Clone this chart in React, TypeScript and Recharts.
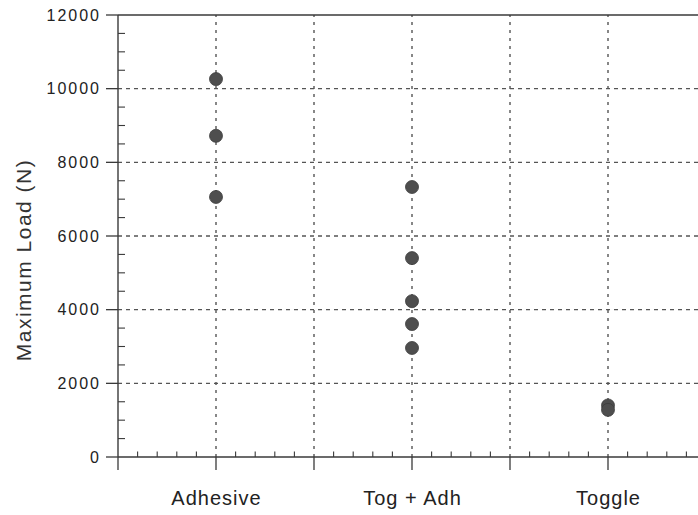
import React from 'react';
import { ScatterChart, Scatter, XAxis, YAxis, ReferenceLine } from 'recharts';

// groups and loads
const CATEGORIES = ['Adhesive', 'Tog + Adh', 'Toggle'];
const ADHESIVE = [10260, 8720, 7060];
const TOG_ADH = [7330, 5400, 4230, 3610, 2960];
const TOGGLE = [1400, 1280];

const Y_TICKS = [
  0, 500, 1000, 1500, 2000, 2500, 3000, 3500, 4000, 4500, 5000, 5500, 6000,
  6500, 7000, 7500, 8000, 8500, 9000, 9500, 10000, 10500, 11000, 11500, 12000,
];
const Y_GRID = [2000, 4000, 6000, 8000, 10000];
// x scale: each category sits in a 10-unit slot, 5 minor divisions per 5 units
const X_TICKS = Array.from({ length: 31 }, (_, i) => i);
const X_GRID = [5, 10, 15, 20, 25];

const groups = [ADHESIVE, TOG_ADH, TOGGLE];
const points = groups.flatMap((vals, gi) => vals.map((v) => ({ x: gi * 10 + 5, y: v, group: CATEGORIES[gi] })));

const INK = '#3a3a3a';
const GRID = '#555';
const FONT = '"Liberation Sans", Arial, Helvetica, sans-serif';

function YTick(props: any) {
  const { x, y, payload } = props;
  const v = payload.value;
  const major = v % 2000 === 0;
  const ax = x + 18; // axis line position (tickSize 12 + tickMargin 6)
  return (
    <g>
      {major ? (
        <line x1={ax - 12} x2={ax} y1={y} y2={y} stroke={INK} strokeWidth={1.3} />
      ) : (
        <line x1={ax} x2={ax + 7} y1={y} y2={y} stroke={INK} strokeWidth={1.1} />
      )}
      {major && (
        <text x={x + 1} y={y} dy={5.5} textAnchor="end" fontSize={16} letterSpacing={2} fill="#222" fontFamily={FONT}>
          {v}
        </text>
      )}
    </g>
  );
}

function XTick(props: any) {
  const { x, y, payload } = props;
  const v = payload.value;
  const major = v % 5 === 0;
  const ay = y - 13; // axis line position (tickSize 13)
  const label = v % 10 === 5 ? CATEGORIES[(v - 5) / 10] : null;
  return (
    <g>
      {major ? (
        <line x1={x} x2={x} y1={ay} y2={ay + 13} stroke={INK} strokeWidth={1.3} />
      ) : (
        <line x1={x} x2={x} y1={ay - 5.5} y2={ay} stroke={INK} strokeWidth={1.1} />
      )}
      {label && (
        <text x={x + 0.5} y={ay + 48} textAnchor="middle" fontSize={20} letterSpacing={1} fill="#222" fontFamily={FONT}>
          {label}
        </text>
      )}
    </g>
  );
}

function YLabel(props: any) {
  const { viewBox } = props;
  const cy = viewBox.y + viewBox.height / 2 + 24;
  return (
    <text
      transform={`translate(31, ${cy}) rotate(-90)`}
      textAnchor="middle"
      fontSize={21}
      letterSpacing={1.5}
      fill="#333"
      fontFamily={FONT}
    >
      Maximum Load (N)
    </text>
  );
}

export default function App() {
  return (
    <div style={{ position: 'absolute', left: 0, top: 0, width: 698, height: 515, overflow: 'hidden', background: '#fff' }}>
      <ScatterChart width={720} height={515} margin={{ top: 15, right: 14, bottom: 0, left: 0 }}>
        {Y_GRID.map((v) => (
          <ReferenceLine key={'h' + v} y={v} stroke={GRID} strokeWidth={1.4} strokeDasharray="4 4" />
        ))}
        {X_GRID.map((v) => (
          <ReferenceLine key={'v' + v} x={v} stroke={GRID} strokeWidth={1.4} strokeDasharray="3 5" />
        ))}
        <ReferenceLine y={12000} stroke={INK} strokeWidth={1.6} />
        <XAxis
          type="number"
          dataKey="x"
          domain={[0, 30]}
          ticks={X_TICKS}
          interval={0}
          height={58}
          tickSize={13}
          tickMargin={0}
          tickLine={false}
          axisLine={{ stroke: INK, strokeWidth: 1.6 }}
          tick={<XTick />}
        />
        <YAxis
          type="number"
          dataKey="y"
          domain={[0, 12000]}
          ticks={Y_TICKS}
          interval={0}
          width={118}
          tickSize={12}
          tickMargin={6}
          tickLine={false}
          axisLine={{ stroke: INK, strokeWidth: 1.4 }}
          tick={<YTick />}
          label={<YLabel />}
        />
        <Scatter
          data={points}
          isAnimationActive={false}
          shape={(p: any) => <circle cx={p.cx} cy={p.cy} r={6.5} fill="#4e4e4e" stroke="#3c3c3c" strokeWidth={0.8} />}
        />
      </ScatterChart>
    </div>
  );
}
